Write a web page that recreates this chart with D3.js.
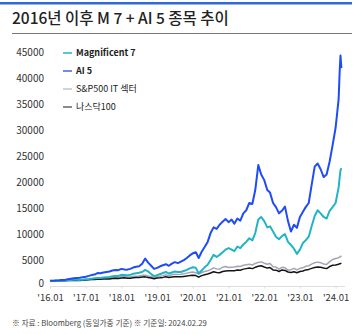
<!DOCTYPE html>
<html><head><meta charset="utf-8">
<script src="https://cdn.jsdelivr.net/npm/d3@7"></script>
<style>
html,body{margin:0;padding:0;background:#fff;}
svg{display:block;font-family:"Noto Sans CJK KR","Noto Sans",sans-serif;}
</style></head>
<body>
<svg id="c" width="355" height="334"></svg>
<script>
const title = "2016년 이후 M 7 + AI 5 종목 추이";
const footnote = "※ 자료 : Bloomberg (동일가중 기준) ※ 기준일: 2024.02.29";
const seriesNames = ["Magnificent 7", "AI 5", "S&P500 IT 섹터", "나스닥100"];
const yTicks = [0, 5000, 10000, 15000, 20000, 25000, 30000, 35000, 40000, 45000];
const xTickLabels = ["'16.01","'17.01","'18.01","'19.01","'20.01","'21.01","'22.01","'23.01","'24.01"];

const dates = [];
for (let y = 2016; y <= 2024; y++) for (let m = 1; m <= 12; m++) {
  if (y === 2024 && m > 2) break;
  dates.push(`${y}-${String(m).padStart(2,"0")}-01`);
}
dates.push("2024-02-12", "2024-02-20", "2024-02-29");

const mag7 = [
  1000, 980, 1020, 1030, 1050, 1070, 1120, 1150, 1200, 1200, 1180, 1220,
  1300, 1350, 1420, 1480, 1550, 1560, 1650, 1700, 1750, 1900, 1950, 1950,
  2150, 2100, 2050, 2150, 2350, 2450, 2550, 2700, 3100, 2800, 2300, 1900,
  2100, 2300, 2500, 2700, 2400, 2600, 2800, 2700, 2700, 2900, 3100, 3400,
  3600, 3500, 2400, 3000, 3600, 4100, 5000, 6000, 5600, 6000, 6500, 7000,
  7300, 7000, 6700, 7600, 7300, 8000, 8500, 9200, 8800, 10200, 12800, 13300,
  12500, 11300, 11500, 10500, 9500, 9000, 9600, 10000, 8500, 7900, 7200, 6200,
  7000, 8300, 8800, 9500, 11500, 13500, 14600, 14000, 13300, 13000, 14500, 15200,
  16000, 19000, 21000, 22300, 22700
];
const ai5 = [
  1000, 1020, 1080, 1100, 1150, 1180, 1300, 1400, 1500, 1550, 1600, 1700,
  1800, 1950, 2100, 2200, 2500, 2450, 2600, 2700, 2800, 3000, 3100, 3050,
  3300, 3200, 3150, 3300, 3550, 3700, 3800, 4300, 5300, 4500, 3900, 3300,
  3500, 3800, 4000, 4200, 3900, 4300, 4600, 4400, 4700, 5000, 5400, 5900,
  6300, 6500, 5400, 6600, 7500, 8500, 10200, 11300, 11000, 11800, 12400, 12900,
  12300, 12800, 12000, 13000, 12600, 14000, 14600, 16000, 15800, 18500, 23300, 21500,
  20400, 18500, 18000, 16000, 15200, 14000, 14500, 15300, 12500, 10500, 11800, 11200,
  13300, 14300, 15200, 16000, 19500, 23000, 23600, 22500, 21000, 21500, 24000, 27100,
  30500, 36000, 41500, 44400, 42000
];
const spIT = [
  1000, 980, 1050, 1030, 1050, 1050, 1120, 1140, 1170, 1180, 1190, 1200,
  1250, 1300, 1340, 1370, 1430, 1420, 1480, 1520, 1550, 1650, 1680, 1700,
  1800, 1780, 1720, 1750, 1860, 1870, 1920, 2050, 2060, 1920, 1800, 1650,
  1800, 1900, 2000, 2150, 1980, 2150, 2250, 2200, 2250, 2350, 2480, 2600,
  2700, 2550, 2300, 2600, 2800, 2950, 3150, 3500, 3300, 3250, 3600, 3750,
  3550, 3600, 3650, 3800, 3750, 4000, 4100, 4200, 4050, 4350, 4550, 4650,
  4400, 4200, 4350, 3700, 3650, 3250, 3600, 3500, 3050, 3150, 3400, 3100,
  3400, 3500, 3800, 3900, 4200, 4500, 4600, 4500, 4250, 4150, 4700, 5100,
  5300, 5450, 5600, 5650, 5800
];
const ndx = [
  1000, 950, 1000, 1010, 1000, 990, 1060, 1070, 1090, 1080, 1080, 1100,
  1150, 1200, 1230, 1250, 1300, 1300, 1330, 1370, 1370, 1430, 1470, 1460,
  1540, 1570, 1510, 1510, 1590, 1620, 1640, 1750, 1760, 1640, 1560, 1400,
  1550, 1600, 1660, 1770, 1640, 1740, 1800, 1770, 1780, 1850, 1920, 2000,
  2050, 2000, 1700, 2000, 2150, 2300, 2500, 2750, 2600, 2550, 2800, 2900,
  2950, 2950, 2950, 3100, 3050, 3250, 3350, 3450, 3350, 3600, 3800, 3900,
  3650, 3450, 3550, 3100, 3050, 2800, 3100, 3000, 2700, 2600, 2750, 2550,
  2800, 2900, 3100, 3200, 3400, 3550, 3650, 3600, 3450, 3350, 3750, 4000,
  4050, 4200, 4300, 4300, 4400
];
const seriesValues = [mag7, ai5, spIT, ndx];
const colors = ["#22b4c6", "#1f4cf6", "#a4a4b8", "#151515"];
const widths = [2, 2, 1.5, 1.5];

const svg = d3.select("#c");
const parse = d3.timeParse("%Y-%m-%d");
const xd = dates.map(parse);

// header
svg.append("rect").attr("x",0).attr("y",2).attr("width",352).attr("height",2.5).attr("fill","#2f6bd8");
svg.append("text").attr("x",12).attr("y",24).attr("font-size",15.5).attr("font-weight",500)
  .attr("fill","#222").text(title);
svg.append("line").attr("x1",12).attr("x2",352).attr("y1",33.5).attr("y2",33.5)
  .attr("stroke","#777").attr("stroke-width",1);

const x = d3.scaleTime().domain([parse("2016-01-01"), parse("2024-01-01")]).range([50, 335.6]);
const y = d3.scaleLinear().domain([0, 45000]).range([286, 52.5]);

// y labels
svg.append("g").selectAll("text").data(yTicks).join("text")
  .attr("x",44).attr("y",d=>y(d) - (d===0 ? 2.5 : 0)).attr("dy","0.35em").attr("text-anchor","end")
  .attr("font-size",10).attr("fill","#333").text(d=>d);

// x axis
const xTicks = d3.range(2016, 2025).map(yr => new Date(yr, 0, 1));
const xAxis = d3.axisBottom(x).tickValues(xTicks).tickSize(2).tickPadding(6)
  .tickFormat((d,i)=>xTickLabels[i]);
const gx = svg.append("g").attr("transform","translate(0,286.5)").call(xAxis);
gx.select(".domain").attr("stroke","#ddd").attr("d","M50,0H345");
gx.selectAll(".tick line").attr("stroke","#ddd");
gx.selectAll(".tick text").attr("font-size",9.5).attr("fill","#333")
  .attr("font-family",'"Noto Sans CJK KR","Noto Sans",sans-serif');

// lines
const line = d3.line().x((d,i)=>x(xd[i])).y(d=>y(d));
const order = [2, 3, 0, 1];
order.forEach(k => {
  svg.append("path").datum(seriesValues[k]).attr("d", line)
    .attr("fill","none").attr("stroke",colors[k]).attr("stroke-width",widths[k])
    .attr("stroke-linejoin","round");
});

// legend
const legColors = ["#22b4c6", "#3a68e8", "#c4c4c8", "#666"];
const lg = svg.append("g");
seriesNames.forEach((n,i) => {
  const yy = 53 + i*18;
  lg.append("line").attr("x1",63).attr("x2",72).attr("y1",yy).attr("y2",yy)
    .attr("stroke",legColors[i]).attr("stroke-width",1.5);
  lg.append("text").attr("x",76).attr("y",yy).attr("dy","0.35em")
    .attr("font-size",9).attr("font-weight", i<2 ? "bold" : "normal")
    .attr("fill","#222").text(n);
});

// footnote
svg.append("text").attr("x",12).attr("y",326).attr("font-size",7.7).attr("fill","#444").text(footnote);
</script>
</body></html>
